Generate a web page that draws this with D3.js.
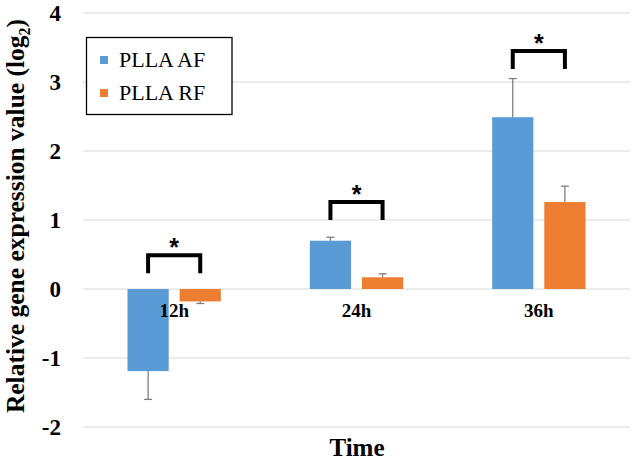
<!DOCTYPE html>
<html><head><meta charset="utf-8">
<script src="https://cdn.jsdelivr.net/npm/d3@7"></script>
<style>body{margin:0;background:#fff}svg{display:block}</style>
</head><body>
<svg id="c" width="633" height="464"></svg>
<script>
const categories = ["12h","24h","36h"];
const seriesNames = ["PLLA AF","PLLA RF"];
const afValues = [-1.19, 0.70, 2.49];
const afErrors = [0.41, 0.05, 0.56];
const rfValues = [-0.18, 0.17, 1.26];
const rfErrors = [0.03, 0.05, 0.23];
const bracketTops = [0.49, 1.26, 3.45];
const yTicks = [-2,-1,0,1,2,3,4];
const colors = ["#5B9BD5","#ED7D31"];

const svg = d3.select("#c");
const font = "'Liberation Serif','Times New Roman',serif";
const x = d3.scaleBand().domain(categories).range([83,630]).paddingInner(0).paddingOuter(0);
const y = d3.scaleLinear().domain([-2,4]).range([427,13]);
const inner = d3.scaleBand().domain([0,1]).range([44.5, x.bandwidth()-44.5]).paddingInner(0.21);

// gridlines
svg.append("g").selectAll("line").data(yTicks).join("line")
  .attr("x1",83).attr("x2",630).attr("y1",d=>y(d)).attr("y2",d=>y(d))
  .attr("stroke","#d9d9d9").attr("stroke-width",1.2);

// y tick labels
const yAxis = d3.axisLeft(y).tickValues(yTicks).tickSize(0).tickPadding(0).tickFormat(d=>String(d));
const ya = svg.append("g").attr("transform","translate(61,0)").call(yAxis);
ya.select(".domain").remove();
ya.selectAll("text").attr("font-family",font).attr("font-weight","bold").attr("font-size",23).attr("fill","#000");

const series = [
  {vals:afValues, errs:afErrors},
  {vals:rfValues, errs:rfErrors}
];
series.forEach((s,i)=>{
  const g = svg.append("g");
  g.selectAll("rect").data(categories).join("rect")
    .attr("x",(c)=>x(c)+inner(i)).attr("width",inner.bandwidth())
    .attr("y",(c,j)=>y(Math.max(0,s.vals[j])))
    .attr("height",(c,j)=>Math.abs(y(s.vals[j])-y(0)))
    .attr("fill",colors[i]);
  const e = svg.append("g").attr("stroke","#7f7f7f").attr("stroke-width",1.3);
  categories.forEach((c,j)=>{
    const cx = x(c)+inner(i)+inner.bandwidth()/2;
    const v = s.vals[j], end = v>=0 ? v+s.errs[j] : v-s.errs[j];
    e.append("line").attr("x1",cx).attr("x2",cx).attr("y1",y(v)).attr("y2",y(end));
    e.append("line").attr("x1",cx-4).attr("x2",cx+4).attr("y1",y(end)).attr("y2",y(end));
  });
});

// category labels
svg.append("g").selectAll("text").data(categories).join("text")
  .attr("x",c=>x(c)+x.bandwidth()/2).attr("y",y(0)+28)
  .attr("text-anchor","middle").attr("font-family",font).attr("font-weight","bold")
  .attr("font-size",19).text(d=>d);

// brackets
const bg = svg.append("g");
categories.forEach((c,j)=>{
  const x1 = x(c)+inner(0)+inner.bandwidth()/2, x2 = x(c)+inner(1)+inner.bandwidth()/2;
  const t = y(bracketTops[j]);
  bg.append("path").attr("d",`M${x1},${t+18}V${t}H${x2}V${t+18}`)
    .attr("fill","none").attr("stroke","#000").attr("stroke-width",4);
  bg.append("text").attr("x",(x1+x2)/2).attr("y",t+1).attr("text-anchor","middle")
    .attr("font-family","'Liberation Sans',Arial,sans-serif").attr("font-weight","bold").attr("font-size",25).text("*");
});

// legend
const lg = svg.append("g");
lg.append("rect").attr("x",86.5).attr("y",37.5).attr("width",145.5).attr("height",77)
  .attr("fill","#fff").attr("stroke","#000").attr("stroke-width",1.3);
seriesNames.forEach((n,i)=>{
  const ly = 60 + i*33;
  lg.append("rect").attr("x",100).attr("y",ly-4).attr("width",8).attr("height",8).attr("fill",colors[i]);
  lg.append("text").attr("x",119).attr("y",ly+7).attr("font-family",font).attr("font-size",22).text(n);
});

// axis titles
svg.append("text").attr("x",357).attr("y",456).attr("text-anchor","middle")
  .attr("font-family",font).attr("font-weight","bold").attr("font-size",25).text("Time");
const yt = svg.append("text").attr("transform","translate(24,216) rotate(-90)").attr("text-anchor","middle")
  .attr("font-family",font).attr("font-weight","bold").attr("font-size",25.5);
yt.append("tspan").text("Relative gene expression value (log");
yt.append("tspan").attr("font-size",16).attr("dy",6).text("2");
yt.append("tspan").attr("dy",-6).text(")");
</script>
</body></html>
